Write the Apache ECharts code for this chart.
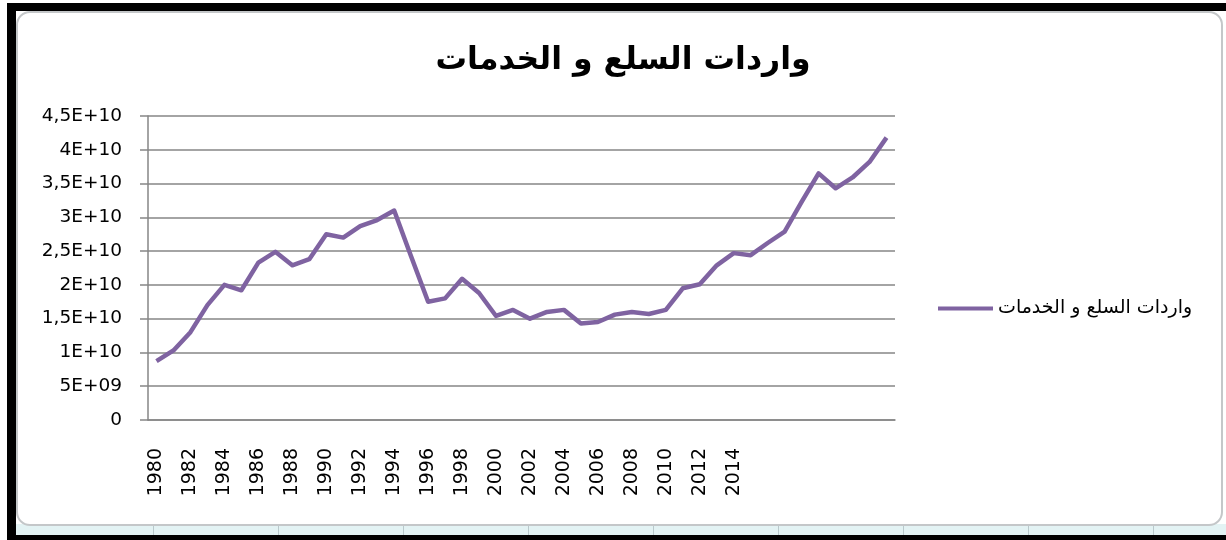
<!DOCTYPE html>
<html>
<head>
<meta charset="utf-8">
<script src="https://cdn.jsdelivr.net/npm/echarts@6/dist/echarts.min.js"></script>
<style>
  html, body { margin: 0; padding: 0; background: #fff; }
  #frame { position: absolute; left: 0; top: 0; width: 1226px; height: 540px; overflow: hidden; }
  .blk { position: absolute; background: #000; }
  #area { position: absolute; left: 16px; top: 11px; width: 1203px; height: 511px;
          border: 2px solid #c4c7c9; border-radius: 14px; background: #fff; }
  #strip { position: absolute; left: 16px; top: 524px; width: 1210px; height: 11px; background: #e3f3f4; }
  .cell { position: absolute; top: 524px; width: 1px; height: 11px; background: #b9c9cc; }
  #chart { position: absolute; left: 0; top: 0; width: 1226px; height: 540px; }
</style>
</head>
<body>
<div id="frame">
  <div id="strip"></div>
  <div class="cell" style="left:153px"></div>
  <div class="cell" style="left:278px"></div>
  <div class="cell" style="left:403px"></div>
  <div class="cell" style="left:528px"></div>
  <div class="cell" style="left:653px"></div>
  <div class="cell" style="left:778px"></div>
  <div class="cell" style="left:903px"></div>
  <div class="cell" style="left:1028px"></div>
  <div class="cell" style="left:1153px"></div>
  <div id="area"></div>
  <div class="blk" style="left:7px;top:3px;width:1219px;height:8px"></div>
  <div class="blk" style="left:7px;top:3px;width:9px;height:537px"></div>
  <div class="blk" style="left:7px;top:535px;width:1219px;height:5px"></div>
  <div id="chart"></div>
</div>
<script>
const TITLE = 'واردات السلع و الخدمات'

const years = []
for (let y = 1980; y <= 2023; y++) years.push(String(y))

// imports of goods and services
const imports = [
  8.7e9, 10.3e9, 13.0e9, 17.0e9, 20.0e9, 19.2e9, 23.3e9, 24.9e9, 22.9e9, 23.8e9,
  27.5e9, 27.0e9, 28.7e9, 29.6e9, 31.0e9, 24.2e9, 17.5e9, 18.0e9, 20.9e9, 18.8e9,
  15.4e9, 16.3e9, 15.0e9, 16.0e9, 16.3e9, 14.3e9, 14.5e9, 15.6e9, 16.0e9, 15.7e9,
  16.3e9, 19.5e9, 20.1e9, 22.9e9, 24.7e9, 24.4e9, 26.2e9, 27.9e9, 32.3e9, 36.5e9,
  34.3e9, 35.9e9, 38.2e9, 41.8e9
]

const lastLabelYear = 2014

const yLabel = v => {
  if (v === 0) return '0'
  const exp = Math.floor(Math.log10(v))
  const m = v / Math.pow(10, exp)
  const ms = String(Math.round(m * 10) / 10).replace('.', ',')
  return ms + 'E+' + String(exp).padStart(2, '0')
}

const chart = echarts.init(document.getElementById('chart'), null, { renderer: 'canvas' })
const grey = '#868686'
const purple = '#7f63a1'

chart.setOption({
  animation: false,
  title: {
    text: TITLE,
    left: 618,
    top: 40,
    textAlign: 'center',
    textStyle: { fontFamily: 'DejaVu Sans', fontWeight: 'bold', fontSize: 31.5, color: '#000' },
  },
  legend: {
    left: 933,
    top: 294,
    icon: 'rect',
    itemWidth: 55,
    itemHeight: 4,
    itemStyle: { color: purple },
    textStyle: { fontFamily: 'DejaVu Sans', fontSize: 19, color: '#000' },
    data: [TITLE],
  },
  grid: { left: 148, right: 331, top: 116, bottom: 120 },
  xAxis: {
    type: 'category',
    data: years,
    boundaryGap: true,
    axisLine: { lineStyle: { color: grey, width: 1.5 } },
    axisTick: { interval: 0, length: 9, lineStyle: { color: grey, width: 1.5 } },
    axisLabel: {
      interval: 1,
      rotate: 90,
      margin: 28,
      fontFamily: 'DejaVu Sans',
      fontSize: 19,
      color: '#000',
      formatter: v => (Number(v) <= lastLabelYear ? v : ''),
    },
  },
  yAxis: {
    type: 'value',
    min: 0,
    max: 4.5e10,
    interval: 5e9,
    axisLine: { show: true, lineStyle: { color: grey, width: 1.5 } },
    axisTick: { show: true, length: 8, lineStyle: { color: grey, width: 1.5 } },
    splitLine: { lineStyle: { color: grey, width: 1.5 } },
    axisLabel: { margin: 26, fontFamily: 'DejaVu Sans', fontSize: 18.5, color: '#000', formatter: yLabel },
  },
  series: [{
    name: TITLE,
    type: 'line',
    data: imports,
    symbol: 'none',
    lineStyle: { color: purple, width: 4.5, join: 'round' },
    itemStyle: { color: purple },
  }],
})
</script>
</body>
</html>
